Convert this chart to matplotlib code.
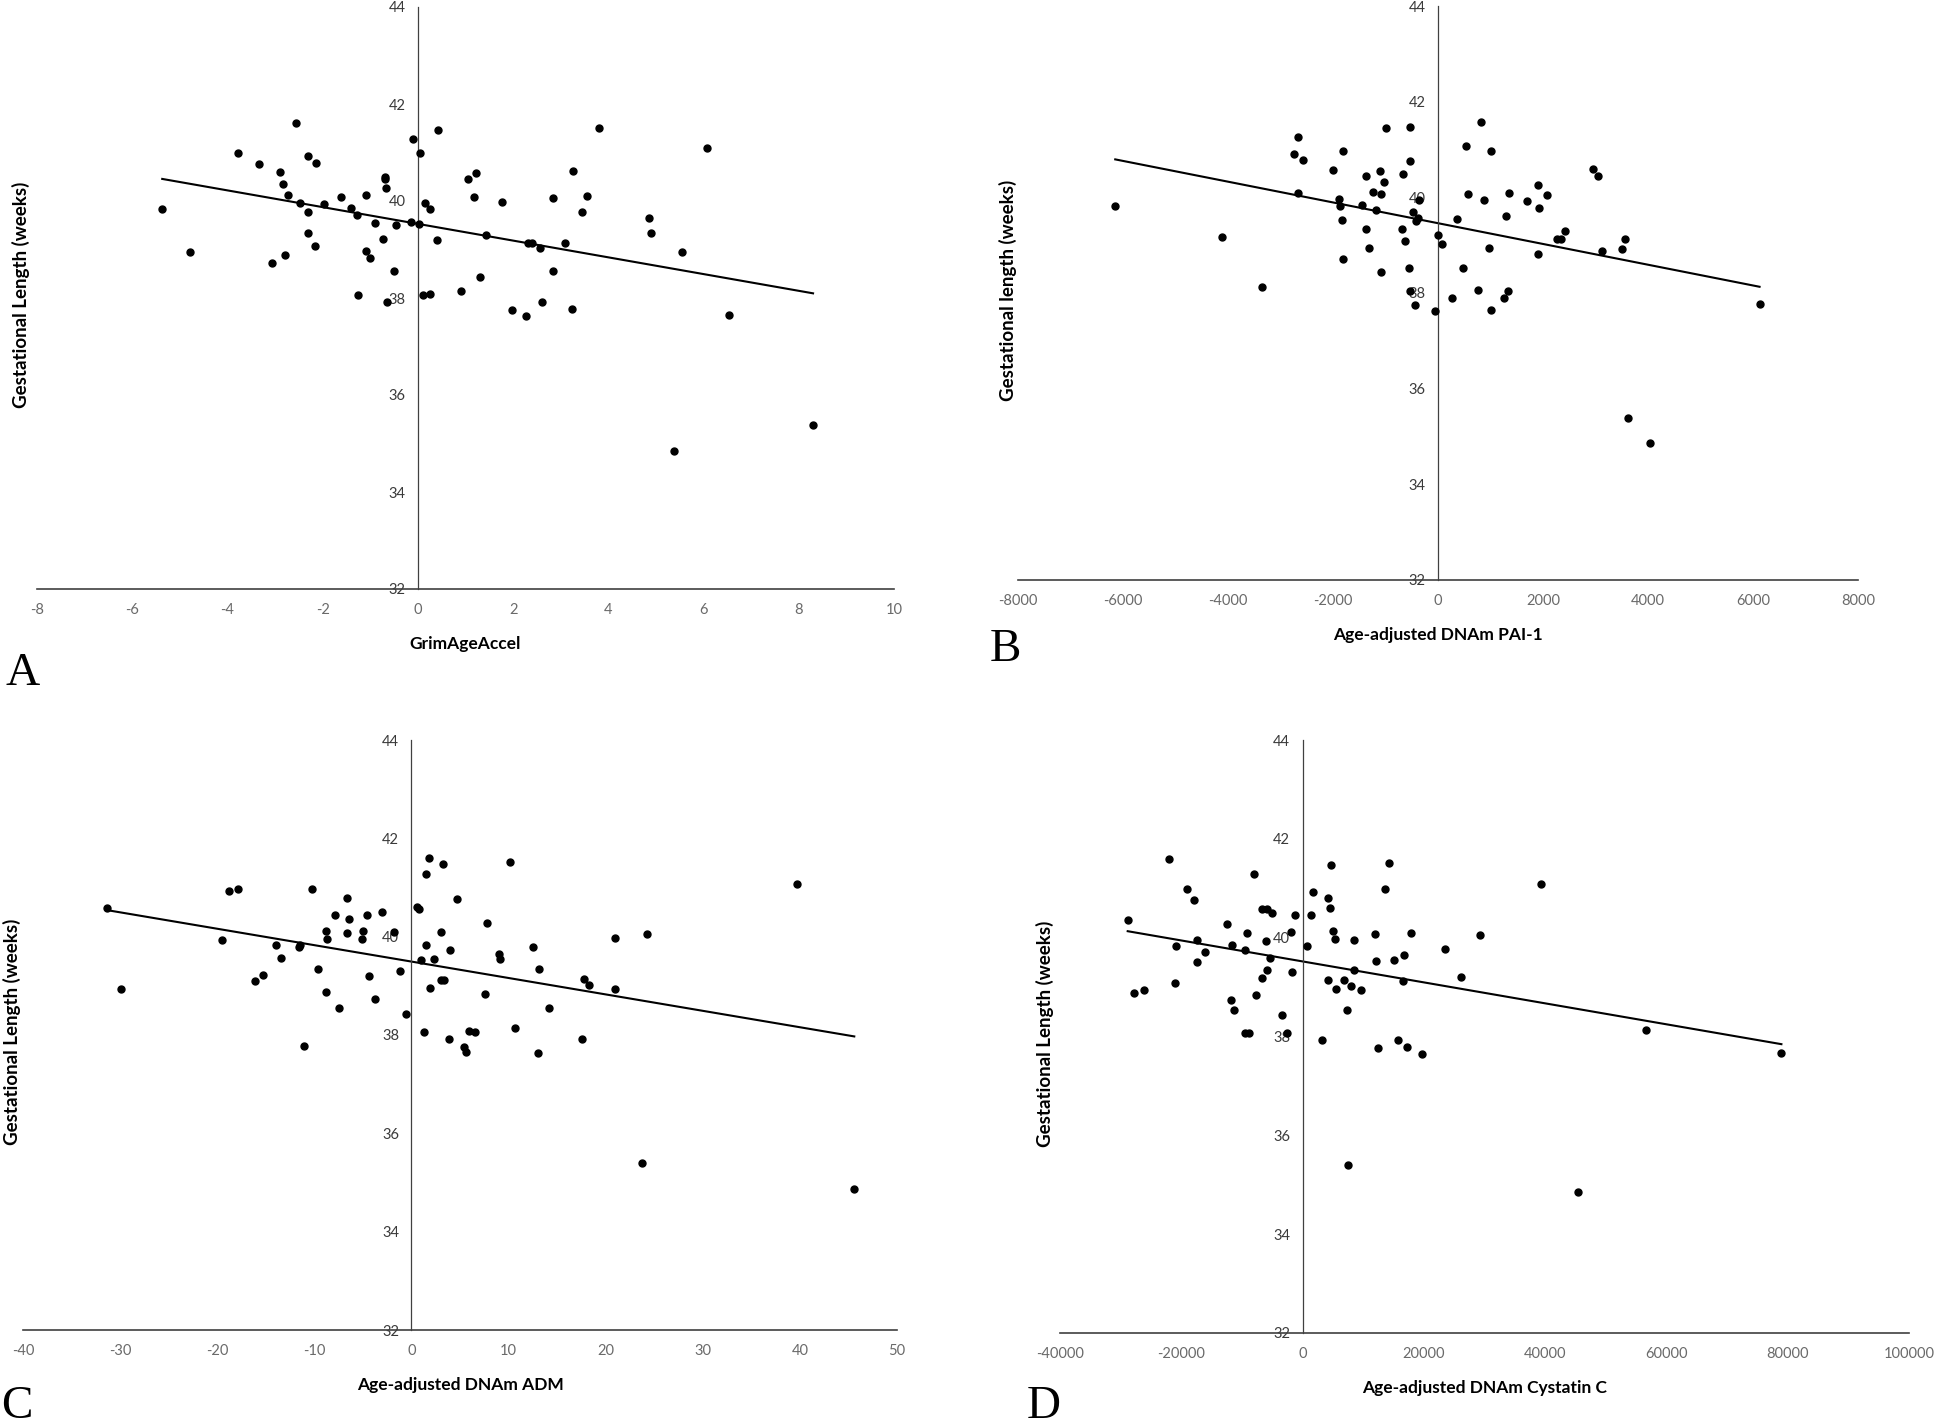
import matplotlib
matplotlib.use('Agg')
import matplotlib.pyplot as plt
import numpy as np

# panel A: GrimAgeAccel
grim_x = [-5.37, -4.78, -3.77, -3.34, -3.06, -2.89, -2.83, -2.79, -2.73, -2.56,
          -2.48, -2.30, -2.30, -2.30, -2.16, -2.13, -1.98, -1.61, -1.40, -1.28,
          -1.25, -1.08, -1.08, -1.00, -0.90, -0.74, -0.69, -0.69, -0.68, -0.64,
          -0.50, -0.47, -0.14, -0.10, 0.02, 0.05, 0.10, 0.14, 0.25, 0.26,
          0.41, 0.43, 0.90, 1.06, 1.17, 1.23, 1.30, 1.44, 1.76, 1.97,
          2.27, 2.32, 2.40, 2.57, 2.60, 2.84, 2.84, 3.10, 3.23, 3.26,
          3.44, 3.55, 3.80, 4.85, 4.89, 5.37, 5.55, 6.08, 6.54, 8.30]
grim_y = [39.83, 38.94, 40.98, 40.77, 38.73, 40.59, 40.36, 38.88, 40.13, 41.60,
          39.95, 40.93, 39.77, 39.34, 39.08, 40.79, 39.93, 40.08, 39.85, 39.72,
          38.06, 40.13, 38.96, 38.83, 39.55, 39.21, 40.50, 40.45, 40.27, 37.91,
          38.55, 39.51, 39.57, 41.28, 39.53, 40.98, 38.06, 39.95, 38.08, 39.83,
          39.19, 41.47, 38.14, 40.46, 40.08, 40.57, 38.44, 39.30, 39.98, 37.76,
          37.63, 39.14, 39.14, 39.03, 37.91, 40.06, 38.55, 39.13, 37.78, 40.61,
          39.78, 40.10, 41.51, 39.64, 39.34, 34.85, 38.94, 41.10, 37.65, 35.38]

# panel B: PAI-1
pai_x = [-6148, -4122, -3345, -2744, -2662, -2674, -2580, -1991, -1885, -1873,
         -1837, -1814, -1814, -1449, -1378, -1378, -1319, -1237, -1178, -1107,
         -1084, -1084, -1025, -989, -683, -671, -636, -554, -542, -542,
         -542, -483, -436, -424, -389, -365, -59, 0, 82, 259,
         353, 483, 542, 565, 766, 813, 883, 978, 1013, 1013,
         1249, 1296, 1331, 1355, 1696, 1896, 1896, 1920, 2085, 2261,
         2344, 2426, 2945, 3039, 3121, 3498, 3569, 3628, 4040, 6125]
pai_y = [39.82, 39.18, 38.13, 40.90, 41.26, 40.10, 40.78, 40.57, 39.97, 39.82,
         39.52, 40.97, 38.72, 39.83, 40.44, 39.33, 38.95, 40.11, 39.74, 40.56,
         40.06, 38.43, 40.33, 41.45, 39.33, 40.48, 39.08, 38.53, 41.48, 40.75,
         38.05, 39.70, 37.75, 39.51, 39.56, 39.94, 37.62, 39.21, 39.02, 37.90,
         39.54, 38.53, 41.07, 40.07, 38.07, 41.58, 39.94, 38.94, 40.97, 37.65,
         37.90, 39.62, 38.05, 40.09, 39.92, 40.25, 38.82, 39.77, 40.04, 39.12,
         39.12, 39.29, 40.59, 40.44, 38.87, 38.93, 39.12, 35.38, 34.86, 37.77]

# panel C: ADM
adm_x = [-31.33, -29.87, -19.49, -18.76, -17.85, -16.15, -15.24, -13.96, -13.48, -11.60,
         -11.48, -11.05, -10.20, -9.59, -8.80, -8.68, -8.80, -7.89, -7.41, -6.68,
         -6.68, -6.38, -5.10, -4.98, -4.55, -4.37, -3.76, -3.04, -1.76, -1.21,
         -0.61, 0.55, 0.79, 1.03, 1.34, 1.52, 1.52, 1.76, 1.88, 2.31,
         3.04, 3.04, 3.40, 3.28, 3.83, 4.01, 4.68, 5.46, 5.59, 5.95,
         6.50, 7.59, 7.77, 8.99, 9.11, 10.20, 10.63, 12.51, 13.05, 13.18,
         14.15, 17.55, 17.73, 18.28, 20.95, 20.95, 23.74, 24.23, 39.71, 45.60]
adm_y = [40.58, 38.94, 39.93, 40.92, 40.97, 39.09, 39.22, 39.84, 39.57, 39.78,
         39.83, 37.78, 40.97, 39.34, 40.11, 39.95, 38.88, 40.45, 38.54, 40.79,
         40.08, 40.35, 39.95, 40.12, 40.45, 39.19, 38.73, 40.50, 40.09, 39.30,
         38.43, 40.61, 40.56, 39.52, 38.06, 39.83, 41.28, 41.59, 38.96, 39.54,
         40.10, 39.12, 39.12, 41.47, 37.91, 39.72, 40.76, 37.76, 37.66, 38.08,
         38.06, 38.83, 40.27, 39.65, 39.55, 41.51, 38.14, 39.78, 37.63, 39.34,
         38.54, 37.91, 39.13, 39.02, 39.97, 38.94, 35.39, 40.06, 41.08, 34.86]

# panel D: Cystatin C
cys_x = [-28838, -27760, -26092, -22070, -21089, -20893, -19127, -17852, -17362, -17362,
         -16087, -12457, -11770, -11574, -11378, -9515, -8828, -9416, -9122, -8043,
         -7749, -6768, -6768, -6081, -5885, -5885, -5296, -5002, -3335, -2648,
         -1864, -1667, -1177, 687, 1373, 1667, 3139, 4120, 4218, 4512,
         4708, 5100, 5296, 5493, 6768, 7259, 7455, 8043, 8436, 8534,
         9612, 11966, 12163, 12457, 13536, 14223, 15007, 15694, 16577, 16773,
         17263, 17950, 19617, 23443, 26189, 29230, 39333, 45414, 56694, 78960]
cys_y = [40.35, 38.88, 38.95, 41.60, 39.09, 39.83, 40.99, 40.77, 39.96, 39.51,
         39.72, 40.27, 38.74, 39.86, 38.54, 38.07, 38.08, 39.76, 40.09, 41.28,
         38.84, 39.19, 40.59, 39.94, 40.57, 39.35, 39.58, 40.50, 38.44, 38.07,
         40.12, 39.30, 40.46, 39.83, 40.46, 40.93, 37.92, 39.14, 40.80, 40.61,
         41.47, 40.13, 39.97, 38.97, 39.14, 38.54, 35.39, 39.02, 39.96, 39.34,
         38.94, 40.08, 39.53, 37.77, 40.98, 41.51, 39.55, 37.92, 39.13, 39.64,
         37.78, 40.10, 37.64, 39.78, 39.21, 40.06, 41.09, 34.86, 38.14, 37.66]

x_ticks_a = [-8, -6, -4, -2, 0, 2, 4, 6, 8, 10]
x_ticks_b = [-8000, -6000, -4000, -2000, 0, 2000, 4000, 6000, 8000]
x_ticks_c = [-40, -30, -20, -10, 0, 10, 20, 30, 40, 50]
x_ticks_d = [-40000, -20000, 0, 20000, 40000, 60000, 80000, 100000]
y_ticks = [32, 34, 36, 38, 40, 42, 44]

W, H = 1946, 1425
fig = plt.figure(figsize=(W / 100, H / 100), dpi=100)
fig.patch.set_facecolor('white')

tick_font = ['Lato', 'DejaVu Sans']
label_font = ['Lato', 'DejaVu Sans']

# (x data, y data, ticks, xlabel, ylabel, letter, box px [left, right, top, bottom], ylabel x, letter pos)
panels = [
    (grim_x, grim_y, x_ticks_a, 'GrimAgeAccel', 'Gestational Length (weeks)', 'A',
     (37, 894, 7, 589), 21, (23, 674)),
    (pai_x, pai_y, x_ticks_b, 'Age-adjusted DNAm PAI-1', 'Gestational length (weeks)', 'B',
     (1018, 1858, 6, 580), 1008, (1005, 650)),
    (adm_x, adm_y, x_ticks_c, 'Age-adjusted DNAm ADM', 'Gestational Length (weeks)', 'C',
     (23, 897, 740, 1330), 12, (17, 1407)),
    (cys_x, cys_y, x_ticks_d, 'Age-adjusted DNAm Cystatin C', 'Gestational Length (weeks)', 'D',
     (1060, 1909, 740, 1333), 1045, (1044, 1407)),
]

for xs, ys, xt, xl, yl, letter, box, ylx, lpos in panels:
    l, r, t, b = box
    ax = fig.add_axes([l / W, 1 - b / H, (r - l) / W, (b - t) / H])
    ax.set_xlim(xt[0], xt[-1])
    ax.set_ylim(32, 44)
    ax.set_facecolor('none')
    for s in ['top', 'right']:
        ax.spines[s].set_visible(False)
    ax.spines['left'].set_position(('data', 0))
    ax.spines['left'].set_color('#404040')
    ax.spines['left'].set_linewidth(0.9)
    ax.spines['bottom'].set_color('#404040')
    ax.spines['bottom'].set_linewidth(1.2)
    ax.set_xticks(xt)
    ax.set_xticklabels([str(v) for v in xt], family=tick_font, fontsize=10.5, color='#6a6a6a')
    ax.set_yticks(y_ticks)
    ax.set_yticklabels([str(v) for v in y_ticks], family=tick_font, fontsize=10.5, color='#3a3a3a')
    ax.tick_params(axis='x', length=0, pad=10)
    ax.tick_params(axis='y', length=0, pad=9)

    xa = np.array(xs, dtype=float)
    ya = np.array(ys, dtype=float)
    k, c = np.polyfit(xa, ya, 1)
    lx = np.array([xa.min(), xa.max()])
    ax.plot(lx, k * lx + c, color='black', lw=1.5, zorder=2)
    ax.plot(xa, ya, 'o', color='black', markersize=5, zorder=3, clip_on=False)

    fig.text(((l + r) / 2) / W, 1 - (b + 55) / H, xl, ha='center', va='center',
             family=label_font, fontweight='bold', fontsize=12.5, color='black')
    fig.text(ylx / W, 1 - ((t + b) / 2 - 3) / H, yl, ha='center', va='center', rotation=90,
             family=label_font, fontweight='bold', fontsize=13.5, color='black')
    fig.text(lpos[0] / W, 1 - lpos[1] / H, letter, ha='center', va='center',
             family=['Liberation Serif', 'DejaVu Serif'], fontsize=34, color='black')

plt.savefig('out.png', dpi=100, facecolor='white')
